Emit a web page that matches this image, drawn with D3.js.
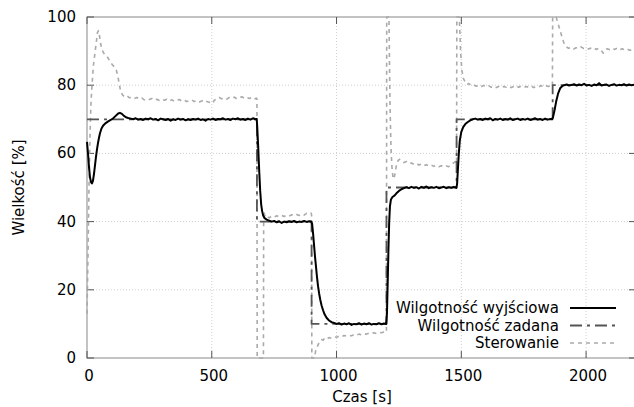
<!DOCTYPE html>
<html>
<head>
<meta charset="utf-8">
<script src="https://cdn.jsdelivr.net/npm/d3@7"></script>
<style>
  body { margin: 0; background: #fff; }
  text { font-family: "DejaVu Sans", sans-serif; }
</style>
</head>
<body>
<div id="chart"></div>
<script>
// Data: [time s, value %]
const wyjsciowa = [
  [0,63.4],[4,60],[8,56],[12,53],[16,51.6],[20,51.2],[24,52],[28,54],[32,56.5],[36,59],[40,61.2],[44,63],
  [48,64.6],[52,65.9],[58,67.3],[65,68.2],[75,68.9],[85,69.4],[95,69.8],[105,70.3],[115,71],[125,71.7],
  [132,71.9],[140,71.6],[148,71],[156,70.6],[165,70.4],[175,70.2],[185,70.0],[195,70.3],[205,69.9],
  [215,70.1],[225,69.8],[235,70.2],[245,70.0],[255,70.3],[265,69.9],[275,70.1],[285,69.7],[295,70.2],
  [305,70.0],[315,69.8],[325,70.1],[335,69.6],[345,70.0],[355,69.8],[365,70.2],[375,69.9],[385,70.1],
  [395,69.7],[405,70.0],[415,69.8],[425,70.1],[435,69.9],[445,70.2],[455,69.8],[465,70.0],[475,69.6],
  [485,70.1],[495,69.9],[505,70.2],[515,69.8],[525,70.1],[535,70.0],[545,70.3],[555,69.9],[565,70.1],
  [575,69.8],[585,70.2],[595,70.0],[605,70.3],[615,69.9],[625,70.1],[635,69.8],[645,70.2],[655,69.9],
  [665,70.3],[675,70.0],[680,70.1],[682,68],[686,62],[690,55],[694,49],[698,45],[702,43],[706,41.8],
  [712,41],[720,40.6],[730,40.3],[740,40.0],[750,40.2],[760,39.8],[770,40.1],[780,39.6],[790,40.0],
  [800,39.8],[810,40.1],[820,39.9],[830,40.2],[840,39.8],[850,40.0],[860,39.9],[870,40.2],[880,39.9],
  [890,40.1],[898,40.0],[902,39.4],[906,36.5],[910,33],[914,29.5],[918,26.5],[922,23.5],[926,21],
  [930,19],[935,17],[940,15.4],[946,14],[952,12.8],[960,11.8],[970,11],[980,10.5],[990,10.3],
  [1000,10.0],[1010,10.2],[1020,9.8],[1030,10.1],[1040,9.9],[1050,10.2],[1060,9.7],[1070,10.0],
  [1080,9.9],[1090,10.2],[1100,9.8],[1110,10.1],[1120,9.9],[1130,10.2],[1140,9.8],[1150,10.0],
  [1160,9.9],[1170,10.2],[1180,9.9],[1190,10.1],[1199,10.0],[1202,13],[1205,22],[1208,32],[1211,40],
  [1214,44.5],[1218,46.5],[1224,47.2],[1232,47.6],[1240,48.3],[1250,49],[1260,49.5],[1270,49.8],
  [1280,50.1],[1290,49.8],[1300,50.2],[1310,49.9],[1320,50.1],[1330,49.7],[1340,50.2],[1350,49.9],
  [1360,50.3],[1370,49.8],[1380,50.1],[1390,49.9],[1400,50.2],[1410,49.8],[1420,50.0],[1430,50.2],
  [1440,49.8],[1450,50.1],[1460,49.9],[1470,50.2],[1480,49.9],[1483,51],[1486,55],[1490,60],
  [1494,63.8],[1500,66.3],[1508,67.8],[1516,68.6],[1526,69.2],[1536,69.7],[1546,70.0],[1556,70.2],
  [1566,69.9],[1576,70.1],[1586,69.8],[1596,70.2],[1606,70.0],[1616,70.3],[1626,69.7],[1636,70.1],
  [1646,69.9],[1656,70.2],[1666,69.8],[1676,70.1],[1686,69.9],[1696,70.3],[1706,69.8],[1716,70.0],
  [1726,70.2],[1736,69.8],[1746,70.1],[1756,69.9],[1766,70.2],[1776,69.8],[1786,70.0],[1796,70.3],
  [1806,69.9],[1816,70.1],[1826,69.8],[1836,70.2],[1846,69.9],[1856,70.1],[1864,70.0],[1868,70.8],
  [1874,72.8],[1880,75.2],[1888,77.6],[1896,79.1],[1904,79.7],[1912,80.0],[1922,80.2],[1932,79.9],
  [1942,80.1],[1952,80.3],[1962,79.9],[1972,80.2],[1982,80.0],[1992,80.4],[2002,79.9],[2012,80.1],
  [2022,79.8],[2032,80.2],[2042,80.0],[2052,80.6],[2062,79.9],[2072,80.1],[2082,80.2],[2092,79.8],
  [2102,80.1],[2112,80.3],[2122,79.9],[2132,80.1],[2142,80.0],[2152,80.3],[2162,79.9],[2172,80.2],
  [2182,80.0],[2192,80.1],[2200,80.0]
];

const zadana = [
  [0,70],[681,70],[681,40],[900,40],[900,10],[1200,10],[1200,50],
  [1481,50],[1481,70],[1866,70],[1866,80],[2200,80]
];

const sterowanie = [
  [0,13],[4,30],[8,50],[12,65],[16,75],[20,80],[26,86],[32,89.5],[38,93],[42,95.5],[46,96],[50,94.5],
  [55,92],[60,90.5],[66,89.5],[72,89],[80,88.5],[88,87.5],[96,86.5],[104,85.8],[112,85.2],[118,84.3],
  [124,82.5],[130,80],[136,78],[142,77.2],[150,76.6],[160,76.9],[170,76.3],[180,76.5],[190,76.1],
  [200,76.4],[210,75.9],[220,76.2],[230,75.7],[240,76],[250,75.8],[260,76.1],[270,75.6],[280,75.9],
  [290,75.5],[300,75.8],[310,75.6],[320,75.9],[330,75.4],[340,75.7],[350,75.3],[360,75.6],[370,75.8],
  [380,75.3],[390,75.6],[400,75.2],[410,75.5],[420,75.7],[430,75.2],[440,75.5],[450,75.1],[460,75.4],
  [470,75.7],[480,75.2],[490,75],[500,74.6],[505,74.8],[510,75.6],[520,75.9],[530,76.4],[540,76],
  [550,76.3],[560,75.9],[570,76.4],[580,76.1],[590,76.5],[600,76],[610,76.3],[620,76.6],[630,76.2],
  [640,76.5],[650,76.1],[660,76.4],[670,75.9],[678,76.2],[681,76],[682,0],[707,0],[708,43],[712,42],
  [716,41.2],[720,41.5],[730,41.1],[740,41.6],[750,41.3],[760,41.7],[770,41.4],[780,41.8],[790,41.5],
  [800,41.9],[810,41.6],[820,42],[830,41.7],[840,42.1],[850,41.8],[860,42.2],[870,41.9],[880,42.4],
  [890,42.2],[898,42.5],[900,42],[901,0],[912,0],[916,2],[922,3.2],[928,4.2],[934,4.8],[940,5.4],
  [946,5.2],[952,5.8],[960,5.5],[970,6],[980,5.8],[990,6.2],[1000,6.1],[1010,6.4],[1020,6.2],
  [1030,6.6],[1040,6.4],[1050,6.7],[1060,6.5],[1070,6.9],[1080,6.7],[1090,7],[1100,6.8],[1110,7.1],
  [1120,7],[1130,7.3],[1140,7.1],[1150,7.4],[1160,7.2],[1170,7.5],[1180,7.4],[1190,7.6],[1198,7.5],
  [1200,7.6],[1201,100],[1210,100],[1214,75],[1218,62],[1222,56],[1226,53],[1230,52.5],[1234,54],
  [1240,56.5],[1246,57.8],[1252,58.3],[1260,58],[1270,57.3],[1280,57.6],[1290,57],[1300,57.2],
  [1310,56.8],[1320,57.1],[1330,56.6],[1340,56.9],[1350,56.4],[1360,56.7],[1370,56.3],[1380,56.6],
  [1390,56.2],[1400,56.5],[1410,56.1],[1420,56.4],[1430,56],[1440,56.3],[1450,56.1],[1460,56.6],
  [1470,57.3],[1478,57.6],[1481,57],[1482,100],[1492,100],[1497,90],[1502,84.5],[1508,82],[1515,81],
  [1522,80.2],[1530,80.5],[1540,79.9],[1550,80.1],[1560,79.7],[1570,80.0],[1580,79.6],[1590,79.9],
  [1600,79.5],[1610,79.8],[1620,79.4],[1630,79.7],[1640,79.3],[1650,79.6],[1660,79.2],[1670,79.6],
  [1680,79.4],[1690,79.7],[1700,79.3],[1710,79.6],[1720,79.9],[1730,79.4],[1740,79.7],[1750,79.3],
  [1760,79.6],[1770,79.4],[1780,79.8],[1790,79.3],[1800,79.6],[1810,79.5],[1820,79.9],[1830,79.4],
  [1840,79.8],[1850,79.6],[1858,80.0],[1865,79.7],[1866,100],[1880,100],[1884,99],[1890,97.5],
  [1896,96],[1902,94.5],[1909,92.8],[1916,91.6],[1922,91.2],[1930,90.8],[1940,91.1],[1950,90.6],
  [1960,91.0],[1970,90.7],[1980,91.2],[1990,90.8],[2000,91.0],[2010,90.6],[2020,90.9],[2030,91.1],
  [2040,90.5],[2050,90.8],[2060,90.2],[2069,89.4],[2075,90.3],[2085,90.7],[2095,90.4],[2105,90.8],
  [2115,90.5],[2125,90.9],[2135,90.4],[2145,90.7],[2155,90.3],[2165,90.6],[2175,90.2],[2185,90.5],
  [2195,90.3],[2200,90.4]
];

const xTicks = [0, 500, 1000, 1500, 2000];
const yTicks = [0, 20, 40, 60, 80, 100];
const legendLabels = ["Wilgotność wyjściowa", "Wilgotność zadana", "Sterowanie"];

// Layout
const W = 634, H = 407;
const plot = { left: 87, right: 636, top: 17, bottom: 358 };
const fontSize = "15px";

const svg = d3.select("#chart").append("svg")
  .attr("width", W)
  .attr("height", H);

const x = d3.scaleLinear().domain([0, 2200]).range([plot.left, plot.right]);
const y = d3.scaleLinear().domain([0, 100]).range([plot.bottom, plot.top]);

// grid
svg.selectAll(".gx")
  .data(xTicks.filter(d => d > 0))
  .join("line")
  .attr("x1", d => x(d)).attr("x2", d => x(d))
  .attr("y1", plot.top).attr("y2", plot.bottom)
  .attr("stroke", "#cfcfcf").attr("stroke-dasharray", "1,2");

svg.selectAll(".gy")
  .data(yTicks.filter(d => d > 0 && d < 100))
  .join("line")
  .attr("x1", plot.left).attr("x2", plot.right)
  .attr("y1", d => y(d)).attr("y2", d => y(d))
  .attr("stroke", "#cfcfcf").attr("stroke-dasharray", "1,2");

// frame
svg.append("rect")
  .attr("x", plot.left).attr("y", plot.top)
  .attr("width", plot.right - plot.left).attr("height", plot.bottom - plot.top)
  .attr("fill", "none").attr("stroke", "#888");

// ticks, inward and mirrored
const tickLen = 7;
xTicks.forEach(t => {
  svg.append("line").attr("x1", x(t)).attr("x2", x(t)).attr("y1", plot.bottom).attr("y2", plot.bottom - tickLen).attr("stroke", "#555");
  svg.append("line").attr("x1", x(t)).attr("x2", x(t)).attr("y1", plot.top).attr("y2", plot.top + tickLen).attr("stroke", "#555");
});
yTicks.forEach(t => {
  svg.append("line").attr("x1", plot.left).attr("x2", plot.left + tickLen).attr("y1", y(t)).attr("y2", y(t)).attr("stroke", "#555");
  svg.append("line").attr("x1", plot.right).attr("x2", plot.right - tickLen).attr("y1", y(t)).attr("y2", y(t)).attr("stroke", "#555");
});

// tick labels
svg.selectAll(".xl")
  .data(xTicks)
  .join("text")
  .attr("x", d => x(d) + 2)
  .attr("y", 381)
  .attr("text-anchor", "middle")
  .style("font-size", fontSize)
  .text(d => d);

svg.selectAll(".yl")
  .data(yTicks)
  .join("text")
  .attr("x", 76)
  .attr("y", d => y(d) + 5)
  .attr("text-anchor", "end")
  .style("font-size", fontSize)
  .text(d => d);

// axis titles
svg.append("text")
  .attr("x", 362).attr("y", 402)
  .attr("text-anchor", "middle")
  .style("font-size", fontSize)
  .text("Czas [s]");

svg.append("text")
  .attr("transform", `translate(24,${(plot.top + plot.bottom) / 2}) rotate(-90)`)
  .attr("text-anchor", "middle")
  .style("font-size", fontSize)
  .text("Wielkość [%]");

// series
const line = d3.line().x(d => x(d[0])).y(d => y(d[1]));

const styles = [
  { data: sterowanie, color: "#aaaaaa", width: 1.6, dash: "4,4" },
  { data: zadana, color: "#555555", width: 1.8, dash: "12,5,3,5" },
  { data: wyjsciowa, color: "#000000", width: 2, dash: null }
];

styles.forEach(s => {
  svg.append("path")
    .datum(s.data)
    .attr("d", line)
    .attr("fill", "none")
    .attr("stroke", s.color)
    .attr("stroke-width", s.width)
    .attr("stroke-linejoin", "round")
    .attr("stroke-dasharray", s.dash);
});

// legend
const legendStyles = [styles[2], styles[1], styles[0]];
const legendY = [308, 325.5, 343];
legendLabels.forEach((lab, i) => {
  svg.append("text")
    .attr("x", 559).attr("y", legendY[i] + 5)
    .attr("text-anchor", "end")
    .style("font-size", fontSize)
    .text(lab);
  svg.append("line")
    .attr("x1", 570).attr("x2", 616)
    .attr("y1", legendY[i]).attr("y2", legendY[i])
    .attr("stroke", legendStyles[i].color)
    .attr("stroke-width", legendStyles[i].width)
    .attr("stroke-dasharray", legendStyles[i].dash);
});
</script>
</body>
</html>
